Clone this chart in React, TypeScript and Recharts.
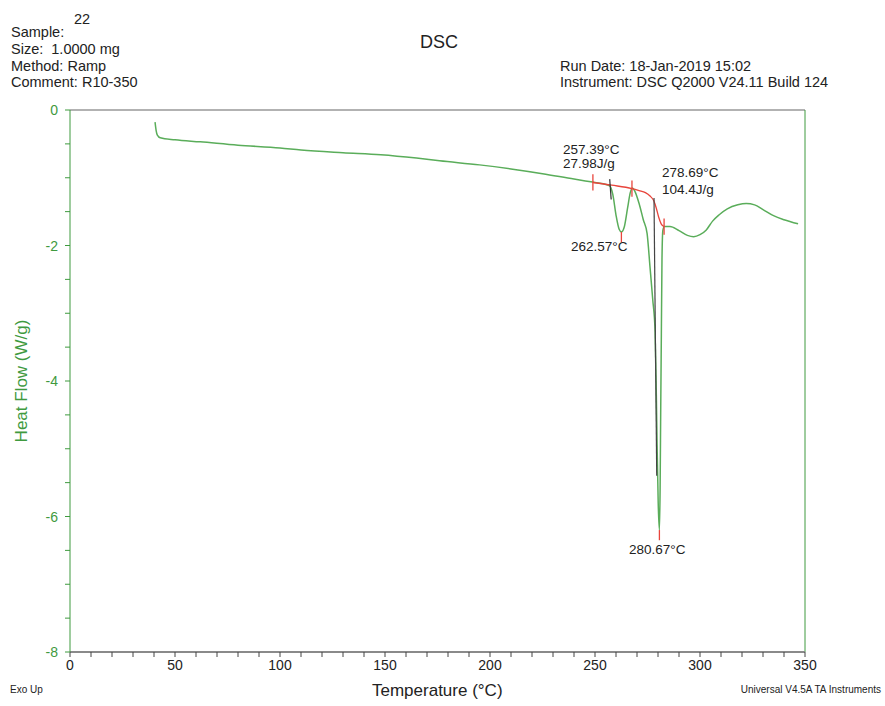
import { LineChart, Line, XAxis, YAxis, ReferenceLine } from 'recharts';

// DSC heat-flow curve
const temps = [
  40.5, 41.0, 41.6, 43, 50, 62, 80, 100, 110, 130, 148, 165, 176, 195, 210, 225, 240, 248, 254, 257,
  258.5, 260, 261.5, 262.6, 264, 265.5, 266.8, 267.8, 269, 271, 273, 274.8, 276.2, 277.5, 278.6,
  279.2, 279.6, 280.1, 280.67, 281.0, 281.3, 281.6, 281.9, 282.3, 283, 285.7, 290, 294, 297, 300,
  303, 306, 309, 313, 318, 322, 326, 330, 335, 340, 346.7,
];
const heatFlow = [
  -0.18, -0.3, -0.37, -0.41, -0.44, -0.47, -0.52, -0.56, -0.59, -0.63, -0.66, -0.71, -0.75, -0.81,
  -0.87, -0.94, -1.02, -1.06, -1.09, -1.12, -1.25, -1.55, -1.76, -1.8, -1.72, -1.45, -1.22, -1.15,
  -1.2, -1.38, -1.62, -1.82, -2.32, -2.8, -3.25, -4.2, -5.0, -5.8, -6.2, -5.6, -4.4, -3.3, -2.2,
  -1.78, -1.72, -1.72, -1.78, -1.85, -1.87, -1.84, -1.77, -1.64, -1.55, -1.46, -1.4, -1.38, -1.4,
  -1.47, -1.56, -1.62, -1.68,
];

// integration baseline (red)
const baseTemps = [249, 258, 267.6, 271, 274, 276.2, 278, 279.2, 280.3, 281.5, 282.9];
const baseFlow = [-1.07, -1.11, -1.16, -1.19, -1.22, -1.27, -1.34, -1.45, -1.58, -1.68, -1.72];

// limit marks on the baseline and peak marks
const limitTemps = [249, 267.6, 282.9];
const limitFlow = [-1.07, -1.16, -1.72];
const peakTemps = [262.57, 280.67];
const peakFlow = [-1.8, -6.2];

// onset tangents (dark)
const tangentA = [{ x: 257.0, y: -1.02 }, { x: 257.7, y: -1.32 }];
const tangentB = [{ x: 278.1, y: -1.3 }, { x: 279.4, y: -5.4 }];

const xTicks = Array.from({ length: 36 }, (_, i) => i * 10);
const yTicks = Array.from({ length: 17 }, (_, i) => -i * 0.5);

const curve = temps.map((t, i) => ({ x: t, y: heatFlow[i] }));
const baseline = baseTemps.map((t, i) => ({ x: t, y: baseFlow[i] }));

const GREEN = '#5aad5a';
const AXIS_GREEN = '#3f9a3f';
const RED = '#e8453c';
const FONT = '"Liberation Sans", Arial, sans-serif';

const txt = (left: number, top: number, size = 14.5): React.CSSProperties => ({
  position: 'absolute',
  left,
  top,
  fontSize: size,
  lineHeight: 1,
  color: '#222',
  whiteSpace: 'nowrap',
});

function YTick({ x, y, payload }: any) {
  const v = payload.value;
  if (Math.abs(v % 2) > 0.01) return <g />;
  return (
    <text x={x - 5} y={y} textAnchor="end" dominantBaseline="central" fill={AXIS_GREEN} fontSize={14} fontFamily={FONT}>
      {v === 0 ? '0' : v}
    </text>
  );
}

function XTick({ x, y, payload }: any) {
  const v = payload.value;
  if (v % 50 !== 0) return <g />;
  return (
    <text x={x} y={y + 11} textAnchor="middle" fill="#222" fontSize={14} fontFamily={FONT}>
      {v}
    </text>
  );
}

export default function App() {
  return (
    <div style={{ position: 'absolute', left: 0, top: 0, width: 885, height: 706, background: '#fff', fontFamily: FONT }}>
      <div style={txt(11, 25)}>Sample:</div>
      <div style={txt(74, 12)}>22</div>
      <div style={txt(11, 42)}>Size:&nbsp; 1.0000 mg</div>
      <div style={txt(11, 59)}>Method: Ramp</div>
      <div style={txt(11, 75)}>Comment: R10-350</div>
      <div style={{ ...txt(420, 33, 18) }}>DSC</div>
      <div style={txt(560, 59)}>Run Date: 18-Jan-2019 15:02</div>
      <div style={txt(560, 75)}>Instrument: DSC Q2000 V24.11 Build 124</div>

      <div style={txt(563, 143, 13.5)}>257.39°C</div>
      <div style={txt(563, 157, 13.5)}>27.98J/g</div>
      <div style={txt(662, 166, 13.5)}>278.69°C</div>
      <div style={txt(662, 183, 13.5)}>104.4J/g</div>
      <div style={txt(571, 240, 13.5)}>262.57°C</div>
      <div style={txt(629, 543, 13.5)}>280.67°C</div>

      <div style={txt(10, 685, 10)}>Exo Up</div>
      <div style={{ ...txt(0, 685, 10), left: 'auto', right: 4 }}>Universal V4.5A TA Instruments</div>
      <div style={txt(372, 682, 17)}>Temperature (°C)</div>
      <div
        style={{
          position: 'absolute',
          left: 22,
          top: 381,
          transform: 'translate(-50%, -50%) rotate(-90deg)',
          fontSize: 17,
          color: AXIS_GREEN,
          whiteSpace: 'nowrap',
        }}
      >
        Heat Flow (W/g)
      </div>

      <LineChart width={885} height={706} margin={{ top: 110, right: 80, bottom: 24, left: 40 }}>
        <XAxis
          type="number"
          dataKey="x"
          domain={[0, 350]}
          ticks={xTicks}
          interval={0}
          tick={<XTick />}
          tickSize={5}
          axisLine={{ stroke: '#8a8a8a', strokeWidth: 2 }}
          tickLine={{ stroke: '#444' }}
          height={30}
          allowDataOverflow
        />
        <YAxis
          type="number"
          domain={[-8, 0]}
          ticks={yTicks}
          interval={0}
          tick={<YTick />}
          tickSize={5}
          axisLine={{ stroke: AXIS_GREEN }}
          tickLine={{ stroke: AXIS_GREEN }}
          width={30}
          allowDataOverflow
        />
        <ReferenceLine y={0} stroke="#999" strokeWidth={1.5} />
        <ReferenceLine x={350} stroke={AXIS_GREEN} />
        <Line data={curve} dataKey="y" type="monotone" stroke={GREEN} strokeWidth={1.5} dot={false} isAnimationActive={false} />
        <Line data={baseline} dataKey="y" type="monotone" stroke={RED} strokeWidth={1.3} dot={false} isAnimationActive={false} />
        <Line data={tangentA} dataKey="y" type="linear" stroke="#333" strokeWidth={1.2} dot={false} isAnimationActive={false} />
        <Line data={tangentB} dataKey="y" type="linear" stroke="#444" strokeWidth={1.2} dot={false} isAnimationActive={false} />
        {limitTemps.map((t, i) => (
          <ReferenceLine
            key={'l' + i}
            segment={[{ x: t, y: limitFlow[i] - 0.12 }, { x: t, y: limitFlow[i] + 0.12 }]}
            stroke={RED}
            strokeWidth={1.3}
          />
        ))}
        {peakTemps.map((t, i) => (
          <ReferenceLine
            key={'p' + i}
            segment={[{ x: t, y: peakFlow[i] - 0.15 }, { x: t, y: peakFlow[i] }]}
            stroke={RED}
            strokeWidth={1.3}
          />
        ))}
      </LineChart>
    </div>
  );
}
